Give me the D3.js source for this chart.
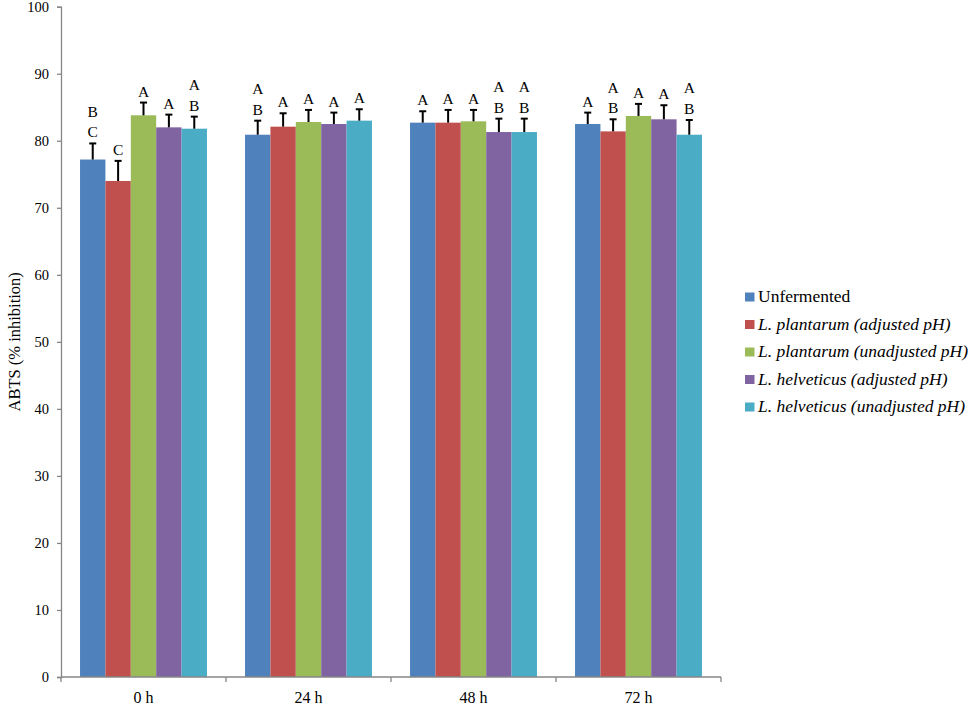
<!DOCTYPE html>
<html>
<head>
<meta charset="utf-8">
<script src="https://cdn.jsdelivr.net/npm/d3@7"></script>
<style>
  body { margin: 0; background: #fff; }
</style>
</head>
<body>
<svg id="chart" width="969" height="705"></svg>
<script>
// Data
const timePoints = ["0 h", "24 h", "48 h", "72 h"];
const seriesNames = [
  "Unfermented",
  "L. plantarum (adjusted pH)",
  "L. plantarum (unadjusted pH)",
  "L. helveticus (adjusted pH)",
  "L. helveticus (unadjusted pH)"
];
const seriesColors = ["#4F81BD", "#C0504D", "#9BBB59", "#8064A2", "#4BACC6"];

// mean values, one array per series (0h, 24h, 48h, 72h)
const unfermented = [77.2, 80.9, 82.7, 82.5];
const plantarumAdj = [74.0, 82.1, 82.7, 81.4];
const plantarumUnadj = [83.8, 82.8, 82.9, 83.7];
const helveticusAdj = [82.0, 82.5, 81.3, 83.2];
const helveticusUnadj = [81.8, 83.0, 81.3, 80.9];

// standard deviations (upper error bar)
const unfermentedSd = [2.4, 2.1, 1.7, 1.7];
const plantarumAdjSd = [3.0, 2.0, 1.9, 1.8];
const plantarumUnadjSd = [1.9, 1.8, 1.7, 1.8];
const helveticusAdjSd = [1.9, 1.7, 2.0, 2.1];
const helveticusUnadjSd = [1.8, 1.7, 2.0, 2.2];

// significance letters
const unfermentedLetters = [["B", "C"], ["A", "B"], ["A"], ["A"]];
const plantarumAdjLetters = [["C"], ["A"], ["A"], ["A", "B"]];
const plantarumUnadjLetters = [["A"], ["A"], ["A"], ["A"]];
const helveticusAdjLetters = [["A"], ["A"], ["A", "B"], ["A"]];
const helveticusUnadjLetters = [["A", "B"], ["A"], ["A", "B"], ["A", "B"]];

const yTicks = [0, 10, 20, 30, 40, 50, 60, 70, 80, 90, 100];

const means = [unfermented, plantarumAdj, plantarumUnadj, helveticusAdj, helveticusUnadj];
const sds = [unfermentedSd, plantarumAdjSd, plantarumUnadjSd, helveticusAdjSd, helveticusUnadjSd];
const letters = [unfermentedLetters, plantarumAdjLetters, plantarumUnadjLetters, helveticusAdjLetters, helveticusUnadjLetters];

const FONT = "'Liberation Serif', 'Times New Roman', 'DejaVu Serif', serif";

const svg = d3.select("#chart").attr("font-family", FONT);
const margin = { left: 61, top: 6.7, right: 248, bottom: 28 };
const plotW = 969 - margin.left - margin.right;
const plotH = 705 - margin.top - margin.bottom;

const g = svg.append("g").attr("transform", `translate(${margin.left},${margin.top})`);

const x0 = d3.scaleBand().domain(timePoints).range([0, plotW]).paddingInner(0).paddingOuter(0);
// Excel-like gap width 150%: 5 bars + 1.5 bar gap
const x1 = d3.scaleBand().domain(d3.range(seriesNames.length))
  .range([0, x0.bandwidth()]).paddingOuter(0.75).paddingInner(0);
const y = d3.scaleLinear().domain([0, 100]).range([plotH, 0]);

// bars
const rows = [];
means.forEach((arr, s) => arr.forEach((v, t) => rows.push({ s, t, v, sd: sds[s][t], lab: letters[s][t] })));

g.selectAll("rect.bar").data(rows).enter().append("rect")
  .attr("class", "bar")
  .attr("x", d => x0(timePoints[d.t]) + x1(d.s))
  .attr("y", d => y(d.v))
  .attr("width", x1.bandwidth())
  .attr("height", d => y(0) - y(d.v))
  .attr("fill", d => seriesColors[d.s]);

// error bars (upper only)
const errs = g.selectAll("g.err").data(rows).enter().append("g").attr("class", "err")
  .attr("transform", d => `translate(${x0(timePoints[d.t]) + x1(d.s) + x1.bandwidth() / 2},0)`);
errs.append("line")
  .attr("y1", d => y(d.v)).attr("y2", d => y(d.v + d.sd))
  .attr("stroke", "#000").attr("stroke-width", 2);
errs.append("line")
  .attr("x1", -3.5).attr("x2", 3.5)
  .attr("y1", d => y(d.v + d.sd)).attr("y2", d => y(d.v + d.sd))
  .attr("stroke", "#000").attr("stroke-width", 2);

// letters
errs.each(function (d) {
  const n = d.lab.length;
  d.lab.forEach((l, i) => {
    d3.select(this).append("text")
      .attr("x", 0)
      .attr("y", y(d.v + d.sd) - 6 - (n - 1 - i) * 20.5)
      .attr("text-anchor", "middle")
      .attr("font-family", FONT)
      .attr("font-size", 15.5)
      .attr("fill", "#000")
      .text(l);
  });
});

// y axis
const yAxis = g.append("g")
  .call(d3.axisLeft(y).tickValues(yTicks).tickSize(4).tickPadding(8).tickFormat(d3.format("d")))
  .attr("font-family", FONT);
yAxis.select(".domain").attr("stroke", "#868686").attr("stroke-width", 1.3);
yAxis.selectAll(".tick line").attr("stroke", "#868686").attr("stroke-width", 1.3);
yAxis.selectAll(".tick text").attr("font-size", 14.5).attr("fill", "#000")
  .attr("font-family", FONT);

// x axis with ticks at category boundaries
const xAxisG = g.append("g").attr("transform", `translate(0,${plotH})`);
xAxisG.append("line").attr("x1", 0).attr("x2", plotW)
  .attr("stroke", "#868686").attr("stroke-width", 1.3);
const bounds = [0].concat(timePoints.map(t => x0(t) + x0.bandwidth()));
xAxisG.selectAll("line.tk").data(bounds).enter().append("line").attr("class", "tk")
  .attr("x1", d => d).attr("x2", d => d).attr("y1", 0).attr("y2", 5)
  .attr("stroke", "#868686").attr("stroke-width", 1.3);
xAxisG.selectAll("text").data(timePoints).enter().append("text")
  .attr("x", d => x0(d) + x0.bandwidth() / 2)
  .attr("y", 26)
  .attr("text-anchor", "middle")
  .attr("font-family", FONT)
  .attr("font-size", 16)
  .attr("fill", "#000")
  .text(d => d);

// y axis title
svg.append("text")
  .attr("transform", `translate(20,${margin.top + plotH / 2}) rotate(-90)`)
  .attr("text-anchor", "middle")
  .attr("font-family", FONT)
  .attr("font-size", 16.5)
  .attr("fill", "#000")
  .text("ABTS (% inhibition)");

// legend
const legend = svg.append("g").attr("transform", "translate(745,302)");
seriesNames.forEach((name, i) => {
  const row = legend.append("g").attr("transform", `translate(0,${i * 27.5})`);
  row.append("rect").attr("x", 0).attr("y", -9.5).attr("width", 9.5).attr("height", 9)
    .attr("fill", seriesColors[i]);
  const t = row.append("text").attr("x", 13).attr("y", 0)
    .attr("font-family", FONT)
    .attr("font-size", 17.5).attr("fill", "#000");
  if (i === 0) {
    t.text(name);
  } else {
    t.attr("font-style", "italic").text(name);
  }
});
</script>
</body>
</html>
